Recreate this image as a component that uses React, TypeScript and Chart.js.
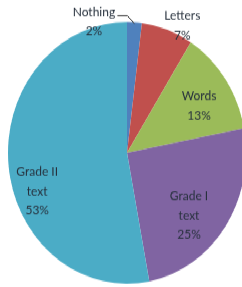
import React, { useEffect, useRef } from "react";
import { Chart, registerables } from "chart.js";

Chart.register(...registerables);

const categories = ["Nothing", "Letters", "Words", "Grade I text", "Grade II text"];
const labelLines = [["Nothing", "2%"], ["Letters", "7%"], ["Words", "13%"], ["Grade I", "text", "25%"], ["Grade II", "text", "53%"]];
const values = [2, 7, 13, 25, 53];
const colors = ["#4f81bd", "#c0504d", "#9bbb59", "#8064a2", "#4bacc6"];

// label placement: angle shift from slice mid-angle (deg), radius fraction
const labelAngleShift = [-19.1, 5.7, 3.4, 8.4, -15.9];
const labelRadiusFrac = [1.04, 1.08, 0.705, 0.708, 0.81];

const W = 242;
const H = 261;
const SY = 287 / 261;

const labelPlugin = {
  id: "pieLabels",
  afterDraw(chart: any) {
    const ctx = chart.ctx;
    const meta = chart.getDatasetMeta(0);
    ctx.save();
    ctx.font = "12px Lato";
    ctx.fillStyle = "#27313d";
    ctx.textAlign = "center";
    ctx.textBaseline = "middle";
    const lh = 17.5;
    meta.data.forEach((arc: any, i: number) => {
      const p = arc.getProps(["x", "y", "startAngle", "endAngle", "outerRadius"], true);
      const mid = (p.startAngle + p.endAngle) / 2;
      const a = mid + (labelAngleShift[i] * Math.PI) / 180;
      const r = p.outerRadius * labelRadiusFrac[i];
      const cx = p.x + r * Math.cos(a);
      const cy = p.y + r * Math.sin(a);
      const lines = labelLines[i];
      lines.forEach((t, k) => {
        ctx.fillText(t, cx, cy + (k - (lines.length - 1) / 2) * lh);
      });
      if (i === 0) {
        const ex = p.x + p.outerRadius * 0.99 * Math.cos(mid);
        const ey = p.y + p.outerRadius * 0.99 * Math.sin(mid);
        ctx.strokeStyle = "#333";
        ctx.lineWidth = 1;
        ctx.beginPath();
        ctx.moveTo(ex, ey);
        ctx.lineTo(ex - 7, ey - 7);
        ctx.lineTo(ex - 17, ey - 7);
        ctx.stroke();
      }
    });
    ctx.restore();
  },
};

export default function App() {
  const ref = useRef<HTMLCanvasElement>(null);
  useEffect(() => {
    if (!ref.current) return;
    const chart = new Chart(ref.current, {
      type: "pie",
      data: {
        labels: categories,
        datasets: [
          {
            data: values,
            backgroundColor: colors,
            borderWidth: 0,
          },
        ],
      },
      options: {
        animation: false,
        responsive: false,
        devicePixelRatio: 1,
        radius: 119,
        layout: { padding: { left: 12, top: 17, right: 0, bottom: 0 } },
        plugins: {
          legend: { display: false },
          tooltip: { enabled: false },
        },
      },
      plugins: [labelPlugin],
    });
    return () => chart.destroy();
  }, []);
  return (
    <div
      style={{
        position: "fixed",
        left: 0,
        top: 0,
        width: W,
        height: H,
        transform: `scaleY(${SY})`,
        transformOrigin: "0 0",
        background: "#fff",
      }}
    >
      <canvas ref={ref} width={W} height={H} style={{ display: "block" }} />
    </div>
  );
}
